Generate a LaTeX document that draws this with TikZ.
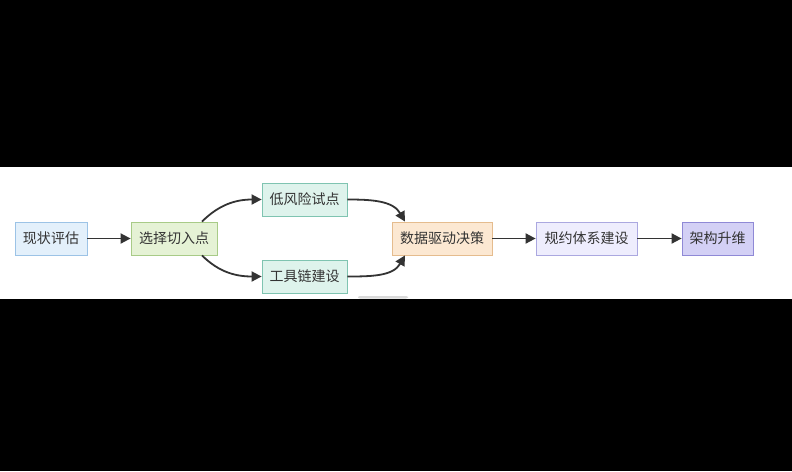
\documentclass[tikz,border=0pt]{standalone}
\usepackage{fontspec}
\setmainfont{Noto Sans CJK SC}
\usetikzlibrary{arrows.meta,positioning}
\definecolor{inkgray}{HTML}{333333}
\definecolor{assessfill}{HTML}{E3F0FB}
\definecolor{assessline}{HTML}{9CC3E6}
\definecolor{pickfill}{HTML}{E5F2D5}
\definecolor{pickline}{HTML}{A8CB87}
\definecolor{pilotfill}{HTML}{DEF3EC}
\definecolor{pilotline}{HTML}{7FC4B1}
\definecolor{decidefill}{HTML}{FCE8D2}
\definecolor{decideline}{HTML}{E5BC8E}
\definecolor{normfill}{HTML}{EEEDFD}
\definecolor{normline}{HTML}{ABA8E0}
\definecolor{upfill}{HTML}{D3D0F5}
\definecolor{upline}{HTML}{8F89D6}
\tikzset{
  stage/.style  ={draw, rectangle, minimum height=33pt, inner sep=0pt,
                  font=\fontsize{14pt}{16pt}\selectfont, text=inkgray,
                  line width=0.8pt},
  assess/.style ={stage, fill=assessfill, draw=assessline},
  pick/.style   ={stage, fill=pickfill, draw=pickline},
  pilot/.style  ={stage, fill=pilotfill, draw=pilotline},
  decide/.style ={stage, fill=decidefill, draw=decideline},
  norm/.style   ={stage, fill=normfill, draw=normline},
  upgrade/.style={stage, fill=upfill, draw=upline},
  flow/.style   ={-{Triangle[length=10pt,width=10pt]}, line width=1.8pt,
                  inkgray},
}

\begin{document}
\begin{tikzpicture}[x=1pt,y=-1pt]
  % screen frame
  \fill[black] (0,0) rectangle (792,471);
  \fill[white] (0,167) rectangle (792,298.5);
  \fill[black!15, rounded corners=2pt] (358,296) rectangle (408,298.5);

  \node[assess, minimum width=72pt] (state) at (51,238.5) {现状评估};
  \node[pick, minimum width=86pt] (entry) at (174,238.5) {选择切入点};
  \node[pilot, minimum width=85pt] (pilot) at (304.5,199.5) {低风险试点};
  \node[pilot, minimum width=85pt] (tools) at (304.5,276.5) {工具链建设};
  \node[decide, minimum width=100pt] (data) at (442,238.5) {数据驱动决策};
  \node[norm, minimum width=101pt] (rules) at (586.5,238.5) {规约体系建设};
  \node[upgrade, minimum width=71pt] (arch) at (717.5,238.5) {架构升维};

  \draw[flow] (state) -- (entry);
  \draw[flow] ([xshift=28pt]entry.north) to[out=45,in=180] (pilot.west);
  \draw[flow] ([xshift=28pt]entry.south) to[out=-45,in=180] (tools.west);
  \draw[flow] (pilot.east) to[out=0,in=120] ([xshift=-37pt]data.north);
  \draw[flow] (tools.east) to[out=0,in=-120] ([xshift=-37pt]data.south);
  \draw[flow] (data) -- (rules);
  \draw[flow] (rules) -- (arch);
\end{tikzpicture}
\end{document}
